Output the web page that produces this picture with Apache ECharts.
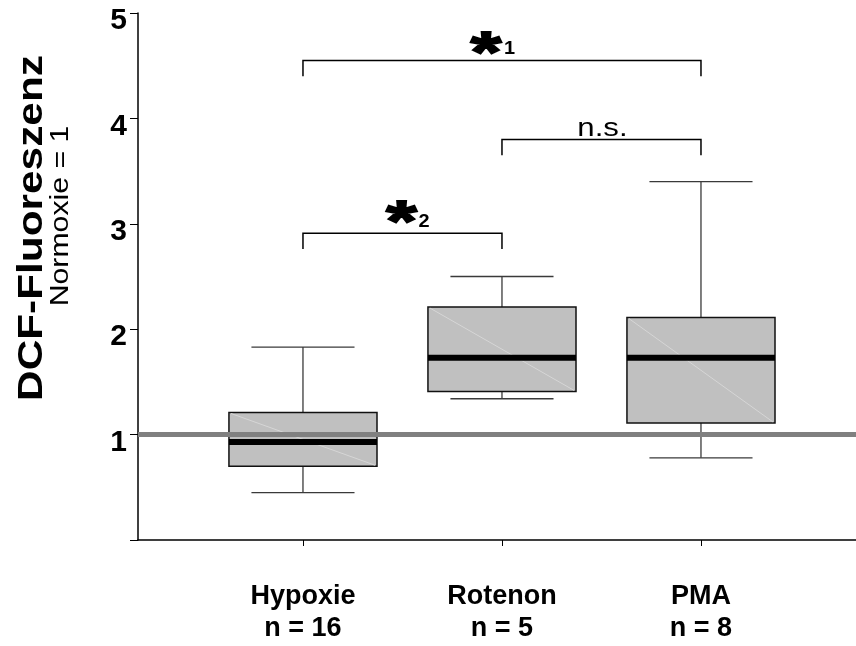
<!DOCTYPE html>
<html>
<head>
<meta charset="utf-8">
<script src="https://cdn.jsdelivr.net/npm/echarts@6/dist/echarts.min.js"></script>
<style>
html,body{margin:0;padding:0;background:#fff;}
#chart{width:856px;height:646px;}
</style>
</head>
<body>
<div id="chart"></div>
<script>
// ---- data ----
const categories = ['Hypoxie', 'Rotenon', 'PMA'];
const sampleSizes = [16, 5, 8];
const positions = [1, 2, 3];
const whiskerLow = [0.45, 1.34, 0.78];
const quartile1 = [0.70, 1.41, 1.11];
const medians = [0.93, 1.73, 1.73];
const quartile3 = [1.21, 2.21, 2.11];
const whiskerHigh = [1.83, 2.50, 3.40];
const referenceLevel = 1;
const yTickValues = [0, 1, 2, 3, 4, 5];
const yTickLabels = ['', '1', '2', '3', '4', '5'];
const bracketFrom = [1, 2, 1];
const bracketTo = [3, 3, 2];
const bracketLevel = [4.55, 3.80, 2.91];
const bracketText = ['*', 'n.s.', '*'];
const bracketSubscript = ['1', '', '2'];

const FONT = 'Arial, "Liberation Sans", Helvetica, sans-serif';
// pixel offsets of the star / subscript relative to the bracket centre (layout only)
const starOffsetX = [-16, 0, -1];
const starOffsetY = [-4, 0, -8];
const subOffsetX = [2, 0, 16];

const boxData = positions.map((p, i) => [p, whiskerLow[i], quartile1[i], medians[i], quartile3[i], whiskerHigh[i]]);
const bracketData = bracketFrom.map((f, i) => [f, bracketTo[i], bracketLevel[i], i]);

function renderBox(params, api) {
  const x = api.value(0);
  const lo = api.coord([x, api.value(1)]);
  const q1 = api.coord([x, api.value(2)]);
  const md = api.coord([x, api.value(3)]);
  const q3 = api.coord([x, api.value(4)]);
  const hi = api.coord([x, api.value(5)]);
  const half = api.size([0.372, 0])[0];
  const capHalf = api.size([0.259, 0])[0];
  const cx = lo[0];
  const wStyle = { stroke: '#3a3a3a', lineWidth: 1.3 };
  return {
    type: 'group',
    children: [
      { type: 'line', shape: { x1: cx, y1: hi[1], x2: cx, y2: q3[1] }, style: wStyle },
      { type: 'line', shape: { x1: cx, y1: q1[1], x2: cx, y2: lo[1] }, style: wStyle },
      { type: 'line', shape: { x1: cx - capHalf, y1: hi[1], x2: cx + capHalf, y2: hi[1] }, style: wStyle },
      { type: 'line', shape: { x1: cx - capHalf, y1: lo[1], x2: cx + capHalf, y2: lo[1] }, style: wStyle },
      { type: 'rect', shape: { x: cx - half, y: q3[1], width: 2 * half, height: q1[1] - q3[1] },
        style: { fill: '#c0c0c0', stroke: '#111', lineWidth: 1.5 } },
      { type: 'line', shape: { x1: cx - half + 2, y1: q3[1] + 1, x2: cx + half - 2, y2: q1[1] - 1 },
        style: { stroke: '#d6d6d6', lineWidth: 1 } },
      { type: 'line', shape: { x1: cx - half, y1: md[1], x2: cx + half, y2: md[1] },
        style: { stroke: '#000', lineWidth: 6 } }
    ]
  };
}

function renderBracket(params, api) {
  const a = api.coord([api.value(0), api.value(2)]);
  const b = api.coord([api.value(1), api.value(2)]);
  const drop = api.size([0, 0.15])[1];
  const idx = api.value(3);
  const mid = (a[0] + b[0]) / 2;
  const y = a[1];
  const children = [
    { type: 'polyline', shape: { points: [[a[0], y + drop], [a[0], y], [b[0], y], [b[0], y + drop]] },
      style: { stroke: '#000', lineWidth: 1.5, fill: null } }
  ];
  const txt = bracketText[idx];
  if (txt === '*') {
    children.push({ type: 'text', x: mid + starOffsetX[idx], y: y + starOffsetY[idx], scaleX: 1.35,
      style: { text: '*', font: 'bold 58px ' + FONT, fill: '#000', stroke: '#000', lineWidth: 2,
        align: 'center', verticalAlign: 'middle' } });
    children.push({ type: 'text', x: mid + subOffsetX[idx], y: y - 2, scaleX: 1.05,
      style: { text: bracketSubscript[idx], font: 'bold 19px ' + FONT, fill: '#000', align: 'left', verticalAlign: 'bottom' } });
  } else {
    children.push({ type: 'text', x: mid + 1, y: y + 2, scaleX: 1.2,
      style: { text: txt, font: '26px ' + FONT, fill: '#000', align: 'center', verticalAlign: 'bottom' } });
  }
  return { type: 'group', children };
}

const chart = echarts.init(document.getElementById('chart'));
chart.setOption({
  animation: false,
  backgroundColor: '#fff',
  grid: { left: 138, right: 0, top: 13, bottom: 106, containLabel: false },
  xAxis: {
    type: 'value',
    min: 0.171,
    max: 3.779,
    splitLine: { show: false },
    axisLine: { show: true, onZero: false, lineStyle: { color: '#000', width: 1.5 } },
    axisTick: { show: true, customValues: positions, length: 6, lineStyle: { color: '#000', width: 1 } },
    axisLabel: {
      show: true,
      customValues: positions,
      margin: 41,
      formatter: v => categories[Math.round(v) - 1] + '\nn = ' + sampleSizes[Math.round(v) - 1],
      fontFamily: FONT, fontWeight: 'bold', fontSize: 27, lineHeight: 32, color: '#000'
    }
  },
  yAxis: {
    type: 'value',
    min: 0,
    max: 5,
    interval: 1,
    splitLine: { show: false },
    axisLine: { show: true, onZero: false, lineStyle: { color: '#000', width: 1.5 } },
    axisTick: { show: true, length: 8, lineStyle: { color: '#000', width: 1 } },
    axisLabel: {
      margin: 11,
      verticalAlign: 'top',
      lineHeight: 16,
      formatter: v => yTickLabels[yTickValues.indexOf(v)] || '',
      fontFamily: FONT, fontWeight: 'bold', fontSize: 30, color: '#000'
    }
  },
  graphic: [
    { type: 'text', x: 32, y: 228, rotation: Math.PI / 2, scaleX: 1.21,
      style: { text: 'DCF-Fluoreszenz', font: 'bold 35px ' + FONT, fill: '#000', align: 'center', verticalAlign: 'middle' } },
    { type: 'text', x: 61, y: 216, rotation: Math.PI / 2, scaleX: 1.21,
      style: { text: 'Normoxie = 1', font: '25px ' + FONT, fill: '#000', align: 'center', verticalAlign: 'middle' } }
  ],
  series: [
    { type: 'custom', z: 2, renderItem: renderBox, data: boxData, encode: { x: 0, y: [1, 2, 3, 4, 5] }, clip: false },
    { type: 'line', z: 5, data: [], symbol: 'none',
      markLine: { silent: true, symbol: 'none', label: { show: false },
        lineStyle: { color: '#808080', width: 5, type: 'solid' },
        data: [{ yAxis: referenceLevel }] } },
    { type: 'custom', z: 6, renderItem: renderBracket, data: bracketData, encode: { x: [0, 1], y: 2 }, clip: false }
  ]
});
</script>
</body>
</html>
